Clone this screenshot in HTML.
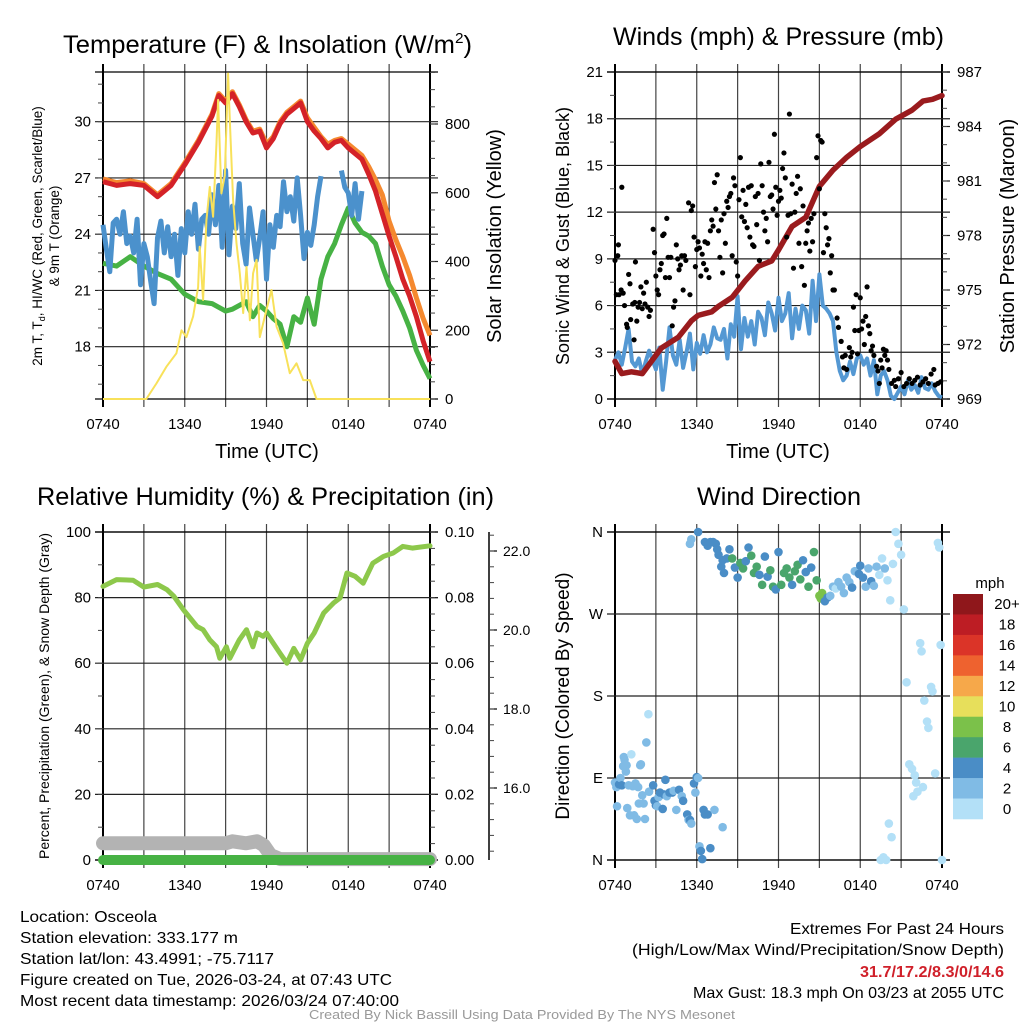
<!DOCTYPE html>
<html><head><meta charset="utf-8"><title>Mesonet Osceola</title>
<style>
html,body{margin:0;padding:0;background:#fff;}
svg{display:block;font-family:"Liberation Sans",Arial,sans-serif;}
</style></head>
<body>
<svg id="c" width="1024" height="1024" viewBox="0 0 1024 1024">
<rect x="0" y="0" width="1024" height="1024" fill="#fff"/>
<text x="63" y="53" font-size="25" textLength="409" lengthAdjust="spacingAndGlyphs">Temperature (F) &amp; Insolation (W/m<tspan font-size="15" dy="-10">2</tspan><tspan dy="10">)</tspan></text>
<text x="613" y="45" font-size="25" textLength="331" lengthAdjust="spacingAndGlyphs">Winds (mph) &amp; Pressure (mb)</text>
<text x="37" y="505" font-size="25" textLength="457" lengthAdjust="spacingAndGlyphs">Relative Humidity (%) &amp; Precipitation (in)</text>
<text x="697" y="505" font-size="25" textLength="164" lengthAdjust="spacingAndGlyphs">Wind Direction</text>
<text x="267" y="458" font-size="20" text-anchor="middle">Time (UTC)</text>
<text x="778" y="458" font-size="20" text-anchor="middle">Time (UTC)</text>
<text transform="translate(42,236) rotate(-90)" font-size="13.5" text-anchor="middle">2m T, T<tspan font-size="9" dy="3">d</tspan><tspan dy="-3">, HI/WC (Red, Green, Scarlet/Blue)</tspan></text>
<text transform="translate(59,236) rotate(-90)" font-size="13.5" text-anchor="middle">&amp; 9m T (Orange)</text>
<text transform="translate(501,236) rotate(-90)" font-size="20" text-anchor="middle">Solar Insolation (Yellow)</text>
<text transform="translate(569,236) rotate(-90)" font-size="18" text-anchor="middle">Sonic Wind &amp; Gust (Blue, Black)</text>
<text transform="translate(1014,236) rotate(-90)" font-size="20" text-anchor="middle">Station Pressure (Maroon)</text>
<text transform="translate(49,696) rotate(-90)" font-size="14" text-anchor="middle">Percent, Precipitation (Green), &amp; Snow Depth (Gray)</text>
<text transform="translate(569,696) rotate(-90)" font-size="19" text-anchor="middle">Direction (Colored By Speed)</text>
<text x="990" y="588" font-size="15" text-anchor="middle">mph</text>
<g font-size="16">
<text x="20" y="922" textLength="137" lengthAdjust="spacingAndGlyphs">Location: Osceola</text>
<text x="20" y="943" textLength="218" lengthAdjust="spacingAndGlyphs">Station elevation: 333.177 m</text>
<text x="20" y="964" textLength="254" lengthAdjust="spacingAndGlyphs">Station lat/lon: 43.4991; -75.7117</text>
<text x="20" y="985" textLength="372" lengthAdjust="spacingAndGlyphs">Figure created on Tue, 2026-03-24, at 07:43 UTC</text>
<text x="20" y="1006" textLength="379" lengthAdjust="spacingAndGlyphs">Most recent data timestamp: 2026/03/24 07:40:00</text>
</g>
<g font-size="16">
<text x="790" y="934" textLength="214" lengthAdjust="spacingAndGlyphs">Extremes For Past 24 Hours</text>
<text x="632" y="955" textLength="372" lengthAdjust="spacingAndGlyphs">(High/Low/Max Wind/Precipitation/Snow Depth)</text>
<text x="860" y="977" textLength="144" lengthAdjust="spacingAndGlyphs" font-weight="bold" fill="#d0202a">31.7/17.2/8.3/0/14.6</text>
<text x="693" y="998" textLength="311" lengthAdjust="spacingAndGlyphs">Max Gust: 18.3 mph On 03/23 at 2055 UTC</text>
</g>
<text x="309" y="1019" font-size="12.5" fill="#999" textLength="426" lengthAdjust="spacingAndGlyphs">Created By Nick Bassill Using Data Provided By The NYS Mesonet</text>
<g id="tl"></g>
<g id="tr"></g>
<g id="bl"></g>
<g id="br"></g>
</svg>
<script>
// ===== data =====
const xTickHours = [0, 6, 12, 18, 24];
const xTickLabels = ["0740", "1340", "1940", "0140", "0740"];
const tHours = [0,1,2,3,4,5,6,7,8,8.5,9,9.5,10,10.5,11,11.5,12,12.5,13,13.5,14,14.5,15,15.5,16,16.5,17,17.5,18,18.5,19,19.5,20,20.5,21,21.5,22,22.5,23,23.5,24];
const tempRed = [26.8,26.6,26.7,26.6,26.0,26.6,27.7,28.9,30.3,31.4,31.0,31.5,30.8,30.0,29.4,29.5,28.6,29.1,29.9,30.4,30.7,31.0,30.0,29.5,29.1,28.6,28.9,29.0,28.6,28.3,28.0,27.2,26.3,25.1,23.9,22.8,21.6,20.7,19.6,18.3,17.2];
const tempOrange = [26.95,26.75,26.85,26.7,26.1,26.7,27.8,29.0,30.4,31.5,31.1,31.6,30.9,30.1,29.5,29.6,28.8,29.2,30.0,30.5,30.8,31.1,30.2,29.7,29.2,28.8,29.0,29.1,28.8,28.5,28.2,27.6,26.9,26.1,24.7,23.7,22.8,21.8,20.6,19.5,18.6];
const dewGreen = [22.45,22.3,22.8,22.3,21.9,21.6,20.8,20.4,20.3,20.1,19.9,20.0,20.2,20.4,19.6,20.2,19.9,19.5,19.2,18.0,19.6,19.3,20.6,19.2,21.6,22.8,23.5,24.5,25.4,24.6,24.1,23.9,23.5,22.3,21.3,20.7,19.9,19.0,17.8,17.0,16.3];
const chillStep = 0.25;
const chillBlue = [24.5,23.2,22.0,24.6,24.8,24.0,25.2,23.5,23.9,23.0,24.8,21.3,23.5,22.8,21.5,20.3,23.8,24.7,23.0,24.4,22.8,24.0,21.8,24.3,23.0,25.2,24.0,25.6,23.2,24.8,25.0,24.0,26.1,24.5,26.6,23.3,27.4,22.9,25.5,24.3,26.7,23.5,22.4,25.4,24.0,22.6,23.8,25.2,21.6,24.5,23.3,25.0,24.4,26.8,25.2,26.0,24.7,27.0,25.0,22.7,24.1,23.4,24.5,26.0,27.1,null,null,null,null,null,27.4,26.5,26.2,25.0,26.7,24.8,26.3];
const solarHours = [0,3.18,3.92,4.65,5.39,5.76,6.12,6.61,6.98,7.1,7.35,7.59,7.84,8.08,8.33,8.45,8.69,8.94,9.18,9.31,9.55,9.8,10.04,10.29,10.53,10.78,11.02,11.27,11.51,12.0,12.37,12.74,13.22,13.71,14.2,14.69,15.18,15.67,24];
const solarValues = [0,0,45,94,133,200,180,240,325,443,288,520,617,530,746,870,598,650,947,812,579,453,366,250,384,229,366,405,180,260,317,210,162,75,104,55,55,0,0];
const pressHours = [0,0.5,1.2,2,2.7,3.4,4.65,5.6,6.1,7.1,7.6,8.6,9.55,10.5,11.5,12,13,14,15,16,17,18,19.4,20.6,21.8,22.6,23.3,24];
const pressValues = [971.07,970.4,970.5,970.4,971.1,971.8,972.4,973.3,973.6,973.8,974.1,974.6,975.5,976.3,976.6,977.2,978.5,979.0,980.7,981.6,982.3,982.9,983.6,984.4,984.9,985.4,985.5,985.7];
const windStep = 0.25;
const windValues = [2.5,3.0,2.2,3.3,4.5,2.4,2.1,2.6,1.6,2.4,3.1,2.5,1.9,3.3,0.6,2.4,4.6,2.8,2.2,3.8,2.0,3.0,4.2,1.9,3.6,2.9,4.1,3.0,3.5,4.6,3.9,3.8,4.5,2.6,4.8,4.0,6.6,3.2,5.2,4.0,5.0,3.5,5.6,5.2,4.1,6.2,5.5,4.4,6.5,5.0,5.5,6.8,3.9,5.8,4.5,6.0,5.7,4.2,7.6,5.0,8.0,6.0,5.8,5.5,5.0,3.0,1.8,1.2,1.5,2.4,1.6,2.6,2.8,2.2,2.6,1.5,2.5,0.3,1.5,1.8,1.2,0.2,0.0,0.4,0.8,0.3,1.2,0.6,0.9,0.4,1.4,0.7,0.6,1.0,0.5,0.2,0.1];
const gustHours = [0,0.1,0.2,0.25,0.3,0.5,0.45,0.6,0.7,0.85,0.9,1.0,1.1,1.15,1.3,1.4,1.45,1.5,1.6,1.7,1.8,1.9,2.0,2.1,2.2,2.3,2.4,2.5,2.6,2.8,2.9,3.0,3.1,3.2,3.3,3.4,3.5,3.6,3.7,3.8,3.9,4.0,4.1,4.2,4.3,4.4,4.5,4.6,4.7,4.8,4.9,5.0,5.1,5.2,5.4,5.5,5.6,5.7,5.8,5.9,6.0,6.1,6.2,6.3,6.4,6.5,6.6,6.7,6.8,6.9,7.0,7.1,7.2,7.3,7.4,7.5,7.6,7.7,7.8,7.9,8.0,8.1,8.2,8.3,8.4,8.5,8.6,8.7,8.8,8.9,9.0,9.1,9.2,9.3,9.4,9.5,9.6,9.7,9.8,9.9,10.0,10.1,10.2,10.3,10.4,10.5,10.6,10.7,10.8,10.9,11.0,11.1,11.2,11.3,11.4,11.5,11.6,11.7,11.8,11.9,12.0,12.1,12.2,12.3,12.4,12.5,12.6,12.7,12.8,12.9,13.0,13.1,13.2,13.3,13.4,13.5,13.6,13.7,13.8,13.9,14.0,14.1,14.2,14.3,14.4,14.5,14.6,14.8,14.9,15.0,15.1,15.2,15.3,15.4,15.5,15.6,15.7,15.8,15.9,16.0,16.1,16.3,16.4,16.6,16.7,16.8,16.9,17.0,17.2,17.3,17.4,17.5,17.6,17.7,17.8,17.9,18.0,18.1,18.2,18.3,18.4,18.5,18.6,18.7,18.8,18.9,19.0,19.2,19.3,19.4,19.5,19.6,19.7,19.8,19.9,20.0,20.1,20.3,20.5,20.6,20.8,21.0,21.2,21.4,21.6,21.8,22.0,22.2,22.4,22.6,22.8,23.0,23.2,23.4,23.5,23.7,23.9];
const gustValues = [8.9,6.7,9.2,9.9,6.7,13.6,7.0,6.8,6.0,4.8,4.6,8.0,7.4,5.1,6.1,3.8,6.2,8.8,5.0,5.9,6.2,7.2,5.8,6.8,6.1,7.5,5.9,5.3,5.7,10.9,9.4,7.9,7.0,6.7,8.3,8.7,10.5,10.6,7.8,11.6,9.1,7.8,9.1,4.7,5.9,6.3,9.9,9.0,8.3,8.6,9.2,7.0,9.2,8.9,12.6,6.7,12.1,12.4,10.4,8.5,9.6,10.1,9.7,7.9,9.3,8.7,10.1,8.3,10.0,7.8,10.8,11.5,11.1,13.9,12.2,14.4,10.8,9.1,11.5,8.1,11.9,10.0,12.7,12.3,13.0,13.2,9.2,14.2,13.7,8.8,7.9,12.8,15.5,11.7,13.4,11.4,12.5,11.0,13.6,10.4,13.7,9.9,9.8,13.0,11.2,13.2,8.9,15.1,13.7,12.0,10.8,11.6,10.1,15.2,13.0,13.1,12.2,17.0,13.6,11.8,12.7,13.4,12.9,14.8,15.8,14.2,10.4,11.8,18.3,11.9,13.8,8.4,12.0,13.2,14.3,10.0,13.5,8.5,12.4,7.3,10.0,10.8,11.3,9.5,11.6,10.1,11.9,15.5,16.9,13.5,16.6,16.5,9.4,11.9,11.0,9.9,10.3,8.1,9.2,7.0,7.0,5.2,4.6,3.7,2.7,2.0,2.8,1.9,3.3,2.7,3.0,5.9,4.4,6.7,2.9,4.4,6.5,4.5,5.0,3.5,5.3,7.2,4.7,4.2,3.1,3.4,2.8,2.1,1.8,1.0,2.5,2.0,3.2,2.8,3.1,2.5,1.9,1.0,1.2,0.8,1.3,1.7,0.8,1.0,1.3,1.0,1.2,1.4,0.9,1.1,1.3,1.0,1.6,1.9,0.9,1.0,1.1];
const rhHours = [0,1,2.2,3,4,4.7,5.2,5.9,6.9,7.35,7.84,8.33,8.57,9.06,9.31,10,10.53,11,11.3,11.75,12,12.5,13,13.5,14,14.5,15,15.5,16.2,16.9,17.4,17.9,18.5,19.1,19.8,20.6,21.3,22,22.7,24];
const rhValues = [83.4,85.5,85.3,83.2,84,82.4,80.4,76.3,71.2,70.2,67.1,65,61.5,65,61.5,67.1,70.2,65,69.2,68.2,69.2,66.1,63,60,64.5,61,66.1,69.2,75.3,78.3,79.9,87.5,86.5,84.4,90.5,92.6,93.6,95.6,95.1,95.8];
const precipHours = [0, 24];
const precipValues = [0, 0];
const snowHours = [0,9,9.5,10.5,11.3,11.8,12.3,13,24];
const snowValues = [14.6,14.6,14.65,14.6,14.65,14.55,14.3,14.2,14.2];
const dirHours = [0,0.1,0.15,0.3,0.4,0.5,0.6,0.65,0.7,0.8,0.85,0.9,1.0,1.1,1.2,1.3,1.4,1.5,1.6,1.7,1.75,1.85,1.9,2.0,2.1,2.2,2.3,2.45,2.5,2.8,2.9,3.0,3.1,3.2,3.3,3.5,3.6,3.7,3.8,4.0,4.2,4.3,4.5,4.7,4.9,5.0,5.3,5.4,5.5,5.6,5.8,5.9,6.0,6.1,6.2,6.3,6.4,6.5,6.6,6.8,7.0,7.3,7.9,5.5,5.6,6.1,6.6,6.8,7.0,7.2,7.4,7.5,7.6,7.8,7.9,8.0,8.2,8.4,8.6,8.8,9.0,9.2,9.4,9.6,9.8,10.0,10.2,10.4,10.6,10.8,11.0,11.2,11.4,11.6,11.8,12.0,12.2,12.4,12.6,12.8,13.0,13.2,13.4,13.6,13.8,14.0,14.2,14.4,14.6,14.8,15.0,15.1,15.2,15.4,15.6,15.8,16.0,16.2,16.4,16.6,16.8,17.0,17.2,17.4,17.6,17.9,18.0,18.2,18.4,18.6,18.8,19.0,19.2,19.4,19.6,19.8,20.0,20.2,20.4,20.6,20.8,21.0,21.2,21.4,21.6,21.8,22.0,22.2,22.4,22.5,22.7,22.9,23.0,23.2,23.3,23.5,23.7,23.8,23.9,24,19.5,19.7,19.9,20.1,20.3,22.1,22.6,21.9];
const dirDegrees = [85,80,59,83,90,82,103,113,110,97,104,57,82,49,116,81,49,84,45,80,62,104,105,71,62,45,129,160,75,82,65,60,59,69,74,56,72,88,70,74,74,76,55,77,70,65,50,44,44,40,84,74,91,90,15,10,1,55,50,50,13,55,36,347,352,360,349,345,349,349,347,341,335,322,329,315,331,341,331,321,310,326,320,328,343,334,315,322,313,302,333,311,318,300,297,338,302,315,320,310,302,317,324,308,329,316,300,321,338,307,290,287,293,284,288,290,300,298,305,300,293,310,305,299,317,314,323,310,300,320,306,301,322,313,331,320,307,285,325,360,347,335,275,195,105,100,93,75,238,229,175,152,145,190,185,95,348,343,236,0,0,3,0,40,25,85,80,70];
const dirSpeeds = [2,3,2,4,2,4,2,2,2,2,2,2,2,2,1,2,2,2,2,2,2,2,2,2,2,2,2,0,2,4,4,4,2,2,4,4,4,4,3,4,4,3,2,4,2,4,4,2,4,2,4,2,4,2,2,4,4,4,4,4,4,2,2,2,2,4,4,4,4,4,4,4,4,4,4,4,4,4,6,4,4,6,6,4,4,6,6,6,4,6,4,4,6,6,4,4,6,6,6,6,4,6,6,6,4,4,6,4,6,6,8,8,8,4,4,2,2,0,2,2,2,2,2,4,2,4,4,4,2,2,4,2,2,0,0,2,0,0,0,0,0,0,0,0,0,0,0,0,0,0,0,0,0,0,0,0,0,0,0,0,0,0,0,0,0,0,0,0];
const speedBinLabels = ["0","2","4","6","8","10","12","14","16","18","20+"];
const speedBinColors = ["#b3e0f7","#80bbe5","#4a8dc6","#4aa56c","#7bc14a","#e7df5b","#f6a84a","#ee622f","#db3428","#bd1d24","#8f171b"];
const tempTicks = [18, 21, 24, 27, 30];
const solarTicks = [0, 200, 400, 600, 800];
const windTicks = [0, 3, 6, 9, 12, 15, 18, 21];
const pressTicks = [969, 972, 975, 978, 981, 984, 987];
const rhTicks = [0, 20, 40, 60, 80, 100];
const precipTicks = [0, 0.02, 0.04, 0.06, 0.08, 0.10];
const snowTicks = [16, 18, 20, 22];
const dirTicks = [0, 90, 180, 270, 360];
const dirTickLabels = ["N", "E", "S", "W", "N"];

// ===== helpers =====
const NS = 'http://www.w3.org/2000/svg';
function mk(parent, tag, attrs) {
  const e = document.createElementNS(NS, tag);
  for (const k in attrs) e.setAttribute(k, attrs[k]);
  parent.appendChild(e);
  return e;
}
function lin(d0, d1, r0, r1) { return v => r0 + (v - d0) * (r1 - r0) / (d1 - d0); }
const panels = {
  tl: {x0:103, x1:430, y0:72, y1:399},
  tr: {x0:615, x1:942, y0:72, y1:399},
  bl: {x0:103, x1:430, y0:532, y1:860},
  br: {x0:615, x1:942, y0:532, y1:860}
};
function xs(p) { return lin(0, 24, p.x0, p.x1); }
function pathD(hs, vs, x, y) {
  let d = '', pen = false;
  for (let i = 0; i < vs.length; i++) {
    if (vs[i] === null) { pen = false; continue; }
    d += (pen ? 'L' : 'M') + x(hs[i]).toFixed(1) + ' ' + y(vs[i]).toFixed(1);
    pen = true;
  }
  return d;
}
function stepHours(n, step) { const a = []; for (let i = 0; i < n; i++) a.push(i * step); return a; }
function fmt(v, dec) { return dec ? v.toFixed(dec) : String(v); }

function frame(g, p, leftTicks, leftY, leftMinorStep, leftMinorRange, leftLabels) {
  const x = xs(p);
  for (let h = 0; h <= 24; h += 3) {
    const l = mk(g, 'line', {x1:x(h), x2:x(h), y1:p.y0-8, y2:p.y1+8, stroke:(h===0||h===24)?'#000':'#444', 'stroke-width':(h===0||h===24)?2:1.2});
    
    
  }
  leftTicks.forEach((v, i) => {
    const l = mk(g, 'line', {x1:p.x0-8, x2:p.x1+8, y1:leftY(v), y2:leftY(v), stroke:'#222', 'stroke-width':1.2});
    
    
    const t = mk(g, 'text', {x:p.x0-12, y:leftY(v)+5, 'font-size':15, 'text-anchor':'end'});
    t.textContent = leftLabels ? leftLabels[i] : fmt(v);
    
    
  });
  if (leftMinorStep) {
    for (let v = leftMinorRange[0]; v <= leftMinorRange[1] + 1e-9; v += leftMinorStep) {
      const yy = leftY(v);
      if (yy < p.y0 - 0.5 || yy > p.y1 + 0.5) continue;
      const l = mk(g, 'line', {x1:p.x0-5, x2:p.x0, y1:yy, y2:yy, stroke:'#444', 'stroke-width':1});
      
      
    }
  }
  const top = mk(g, 'line', {x1:p.x0-8, x2:p.x1+8, y1:p.y0, y2:p.y0, stroke:'#000', 'stroke-width':1.2});
  
  
  const bot = mk(g, 'line', {x1:p.x0-8, x2:p.x1+8, y1:p.y1, y2:p.y1, stroke:'#000', 'stroke-width':1.2});
  
  
  xTickHours.forEach((h, i) => {
    const t = mk(g, 'text', {x:x(h), y:p.y1+30, 'font-size':15, 'text-anchor':'middle'});
    t.textContent = xTickLabels[i];
    
    
  });
}
function rightAxis(g, p, ticks, y, dec, minorStep, range, xoff) {
  ticks.forEach(v => {
    const l = mk(g, 'line', {x1:p.x1, x2:p.x1+8, y1:y(v), y2:y(v), stroke:'#222', 'stroke-width':1.2});
    
    
    const t = mk(g, 'text', {x:p.x1+(xoff||15), y:y(v)+5, 'font-size':15});
    t.textContent = fmt(v, dec);
    
    
  });
  for (let v = range[0]; v <= range[1] + 1e-9; v += minorStep) {
    const yy = y(v);
    if (yy < p.y0 - 0.5 || yy > p.y1 + 0.5) continue;
    const l = mk(g, 'line', {x1:p.x1, x2:p.x1+5, y1:yy, y2:yy, stroke:'#444', 'stroke-width':1});
    
    
  }
}

// ===== temperature panel =====
(function () {
  const g = document.getElementById('tl'), p = panels.tl, x = xs(p);
  const yT = lin(18, 30, 346.7, 121.7), yS = lin(0, 800, 399, 124);
  frame(g, p, tempTicks, yT, 1, [15, 33]);
  rightAxis(g, p, solarTicks, yS, 0, 50, [0, 950]);
  const s1 = mk(g, 'path', {d:pathD(tHours, tempOrange, x, yT), fill:'none', stroke:'#f5892f', 'stroke-width':5, 'stroke-linejoin':'round'});
  
  
  const s2 = mk(g, 'path', {d:pathD(tHours, tempRed, x, yT), fill:'none', stroke:'#d42228', 'stroke-width':5, 'stroke-linejoin':'round'});
  
  
  const s3 = mk(g, 'path', {d:pathD(tHours, dewGreen, x, yT), fill:'none', stroke:'#47b244', 'stroke-width':5, 'stroke-linejoin':'round'});
  
  
  const s4 = mk(g, 'path', {d:pathD(stepHours(chillBlue.length, chillStep), chillBlue, x, yT), fill:'none', stroke:'#4b91cc', 'stroke-width':5, 'stroke-linejoin':'round'});
  
  
  const s5 = mk(g, 'path', {d:pathD(solarHours, solarValues, x, yS), fill:'none', stroke:'#f8e15a', 'stroke-width':2, 'stroke-linejoin':'round'});
  
  
})();

// ===== wind panel =====
(function () {
  const g = document.getElementById('tr'), p = panels.tr, x = xs(p);
  const yW = lin(0, 21, 399, 72), yP = lin(969, 987, 399, 72);
  frame(g, p, windTicks, yW, 1.5, [0, 21]);
  rightAxis(g, p, pressTicks, yP, 0, 1, [969, 987]);
  const w = mk(g, 'path', {d:pathD(stepHours(windValues.length, windStep), windValues, x, yW), fill:'none', stroke:'#5498d3', 'stroke-width':4, 'stroke-linejoin':'round'});
  
  
  const pr = mk(g, 'path', {d:pathD(pressHours, pressValues, x, yP), fill:'none', stroke:'#9a1b1e', 'stroke-width':5.5, 'stroke-linejoin':'round', 'stroke-linecap':'round'});
  
  
  gustHours.forEach((h, i) => {
    const c = mk(g, 'circle', {cx:x(h), cy:yW(gustValues[i]), r:2.6, fill:'#000'});
    
    
  });
})();

// ===== humidity panel =====
(function () {
  const g = document.getElementById('bl'), p = panels.bl, x = xs(p);
  const yR = lin(0, 100, 860, 532), yPr = lin(0, 0.1, 860, 532), ySn = lin(16, 22, 788, 551);
  frame(g, p, rhTicks, yR, 10, [0, 100]);
  rightAxis(g, p, precipTicks, yPr, 2, 0.005, [0, 0.1], 15);
  const ax = mk(g, 'line', {x1:489, x2:489, y1:532, y2:860, stroke:'#000', 'stroke-width':1.5});
  
  
  snowTicks.forEach(v => {
    const l = mk(g, 'line', {x1:489, x2:497, y1:ySn(v), y2:ySn(v), stroke:'#000', 'stroke-width':1.2});
    
    
    const t = mk(g, 'text', {x:503, y:ySn(v)+5, 'font-size':14});
    t.textContent = v.toFixed(1);
    
    
  });
  for (let v = 14.4; v <= 22.41; v += 0.4) {
    const l = mk(g, 'line', {x1:489, x2:494, y1:ySn(v), y2:ySn(v), stroke:'#444', 'stroke-width':1});
    
    
  }
  const sn = mk(g, 'path', {d:pathD(snowHours, snowValues, x, ySn), fill:'none', stroke:'#b3b3b3', 'stroke-width':14, 'stroke-linecap':'round', 'stroke-linejoin':'round'});
  
  
  const pc = mk(g, 'path', {d:pathD(precipHours, precipValues, x, yPr), fill:'none', stroke:'#47b244', 'stroke-width':10, 'stroke-linecap':'round'});
  
  
  const rh = mk(g, 'path', {d:pathD(rhHours, rhValues, x, yR), fill:'none', stroke:'#8dc84b', 'stroke-width':5, 'stroke-linejoin':'round', 'stroke-linecap':'round'});
  
  
})();

// ===== direction panel =====
(function () {
  const g = document.getElementById('br'), p = panels.br, x = xs(p);
  const yD = lin(0, 360, 860, 532);
  frame(g, p, dirTicks, yD, 0, null, dirTickLabels);
  dirHours.forEach((h, i) => {
    const bin = Math.min(10, Math.floor(dirSpeeds[i] / 2));
    const c = mk(g, 'circle', {cx:x(h), cy:yD(dirDegrees[i]), r:4.3, fill:speedBinColors[bin]});
    
    
  });
  const n = speedBinLabels.length, top = 594, bot = 819, bh = (bot - top) / n;
  for (let i = 0; i < n; i++) {
    const k = n - 1 - i;
    const r = mk(g, 'rect', {x:953, y:top + i*bh, width:30, height:bh+0.3, fill:speedBinColors[k]});
    
    
    const t = mk(g, 'text', {x:1007, y:top + i*bh + bh/2 + 5, 'font-size':15, 'text-anchor':'middle'});
    t.textContent = speedBinLabels[k];
    
    
  }
})();
</script>
</body></html>
